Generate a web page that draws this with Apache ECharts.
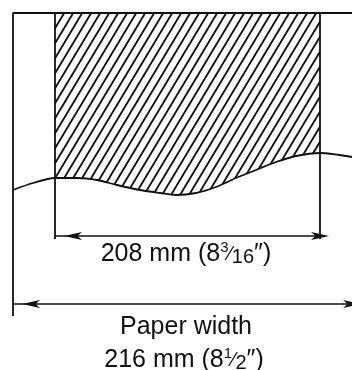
<!DOCTYPE html>
<html>
<head>
<meta charset="utf-8">
<script src="https://cdn.jsdelivr.net/npm/echarts@6/dist/echarts.min.js"></script>
<style>
  html, body { margin: 0; padding: 0; background: #fff; }
  #main { width: 352px; height: 370px; }
</style>
</head>
<body>
<div id="main"></div>
<script>
// diagram geometry, in page units (x right, y down)
var paperEdge = [[13, 316], [13, 13], [352, 13]];
var printLeftEdge = [[55, 13], [55, 239]];
var printRightEdge = [[320, 13], [320, 239]];
var tearX = [13, 33, 55, 77, 97, 117, 140, 160, 176, 196, 216, 236, 256, 276, 296, 320, 339, 352];
var tearY = [190, 183, 178, 178, 180, 185, 190, 193, 195, 193, 187, 178, 170, 162, 156, 153, 155, 157];
var printTop = 13;
var dimPrint = [[55, 236], [320, 236]];
var dimPaper = [[13, 304], [352, 304]];
var labelPrint = ['208 mm (8', '3', '16', '″)'];
var labelPaper = ['Paper width', '216 mm (8', '1', '2', '″)'];

var tear = tearX.map(function (x, i) { return [x, tearY[i]]; });
var hatchArea = tear.filter(function (p) { return p[0] >= printLeftEdge[0][0] && p[0] <= printRightEdge[0][0]; });

// hatch tile: diagonal lines, bottom-left to top-right
function hatchPattern() {
  var w = 9, h = 15;
  var c = document.createElement('canvas');
  c.width = w; c.height = h;
  var ctx = c.getContext('2d');
  ctx.strokeStyle = '#111';
  ctx.lineWidth = 1.9;
  for (var k = -1; k <= 1; k++) {
    ctx.beginPath();
    ctx.moveTo(k * w - w, 2 * h);
    ctx.lineTo(k * w + 2 * w, -h);
    ctx.stroke();
  }
  return c;
}

var black = '#111';
function seg(data, width) {
  return {
    type: 'line', data: data, symbol: 'none', silent: true,
    lineStyle: { color: black, width: width || 1.8 }
  };
}
function dim(line) {
  return [{ coord: line[0] }, { coord: line[1] }];
}

var chart = echarts.init(document.getElementById('main'));
var font = '"Liberation Sans", Arial, sans-serif';
var rich = {
  sup: { fontSize: 15, fontFamily: font, fill: black, verticalAlign: 'top', lineHeight: 27 },
  sl: { fontSize: 20, fontFamily: font, fill: black, lineHeight: 27 },
  sub: { fontSize: 20, fontFamily: font, fill: black, verticalAlign: 'bottom', lineHeight: 23 }
};

chart.setOption({
  animation: false,
  grid: { left: 0, right: 0, top: 0, bottom: 0 },
  xAxis: { type: 'value', min: 0, max: 352, show: false },
  yAxis: { type: 'value', min: 0, max: 370, inverse: true, show: false },
  series: [
    {
      type: 'line', data: hatchArea, symbol: 'none', smooth: 0.3, silent: true,
      lineStyle: { width: 0 },
      areaStyle: { origin: printTop, color: { image: hatchPattern(), repeat: 'repeat' }, opacity: 1 }
    },
    seg(paperEdge),
    seg(printLeftEdge),
    seg(printRightEdge),
    {
      type: 'line', data: tear, symbol: 'none', smooth: 0.3, silent: true,
      lineStyle: { color: black, width: 1.8 },
      markLine: {
        silent: true,
        symbol: ['arrow', 'arrow'],
        symbolSize: [6, 18],
        symbolOffset: [[0, 9], [0, -9]],
        label: { show: false },
        lineStyle: { color: black, width: 1.6, type: 'solid' },
        data: [dim(dimPrint), dim(dimPaper)]
      }
    }
  ],
  graphic: [
    {
      type: 'text', x: 186, y: 254,
      style: {
        text: labelPrint[0] + '{sup|' + labelPrint[1] + '}{sl|⁄}{sub|' + labelPrint[2] + '}' + labelPrint[3],
        fontSize: 25, fontFamily: font, fill: black, lineHeight: 27,
        align: 'center', verticalAlign: 'middle', rich: rich
      }
    },
    {
      type: 'text', x: 186, y: 327,
      style: {
        text: labelPaper[0], fontSize: 25, fontFamily: font, fill: black,
        align: 'center', verticalAlign: 'middle'
      }
    },
    {
      type: 'text', x: 184, y: 360,
      style: {
        text: labelPaper[1] + '{sup|' + labelPaper[2] + '}{sl|⁄}{sub|' + labelPaper[3] + '}' + labelPaper[4],
        fontSize: 25, fontFamily: font, fill: black, lineHeight: 27,
        align: 'center', verticalAlign: 'middle', rich: rich
      }
    }
  ]
});
</script>
</body>
</html>
